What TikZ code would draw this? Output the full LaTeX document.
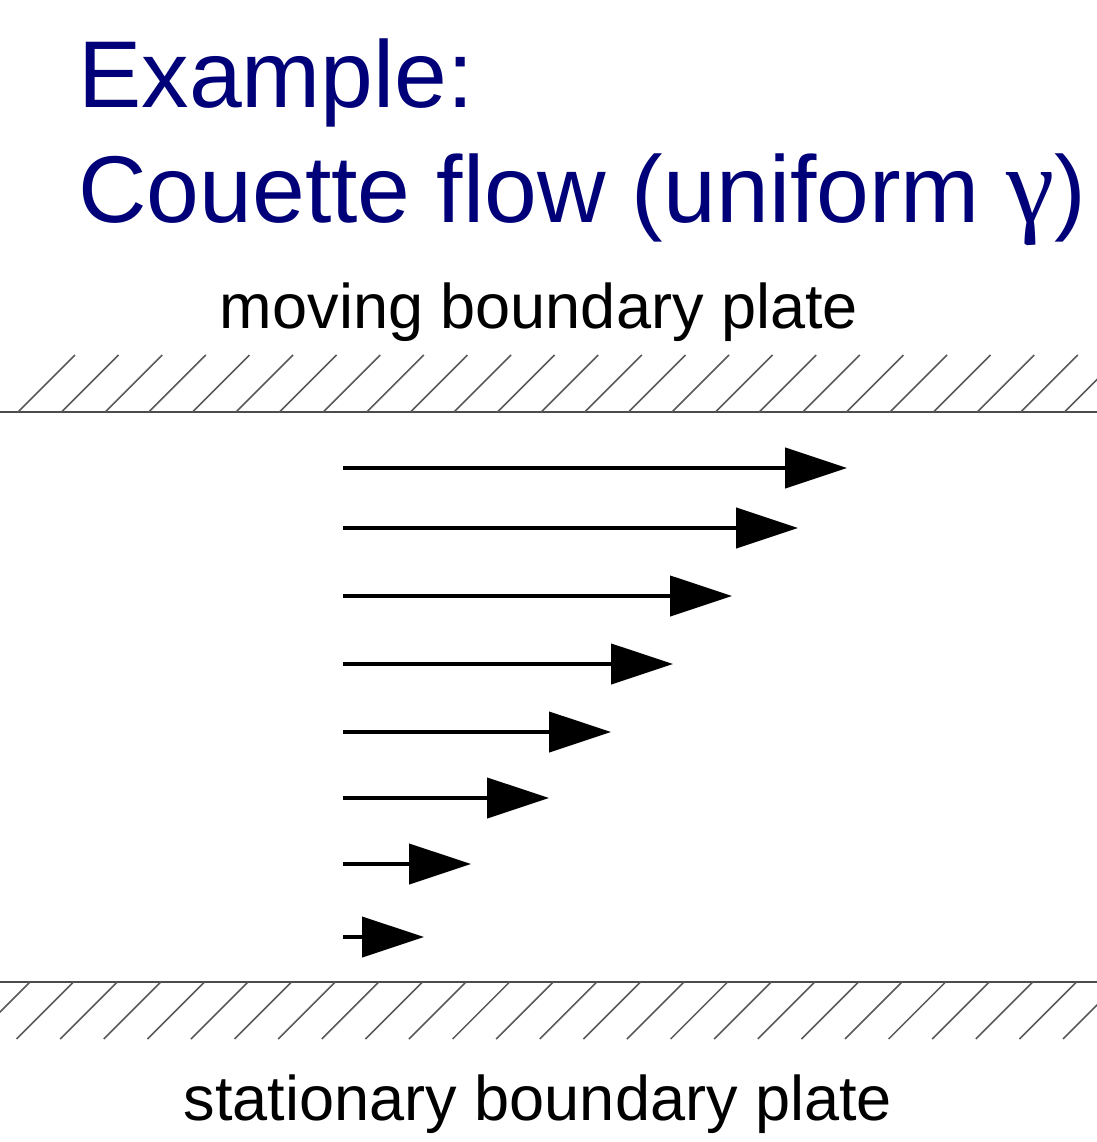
\documentclass[tikz,border=0pt]{standalone}
\usepackage{fontspec}
\setmainfont{Liberation Sans}
\newfontfamily\greekfont{Liberation Serif}
\usetikzlibrary{arrows.meta}
\definecolor{titleblue}{RGB}{0,0,120}

\begin{document}
\begin{tikzpicture}[x=0.02cm, y=-0.02cm,
        title/.style={anchor=base west, inner sep=0pt, text=titleblue, font=\fontsize{54}{65}\selectfont},
        platetext/.style={anchor=base, inner sep=0pt, font=\fontsize{35.9}{43}\selectfont},
        plate/.style={draw=black!70, line width=1.2pt},
        hatch/.style={draw=black!65, line width=0.9pt},
        flow/.style={-{Triangle[length=1.24cm, width=0.8cm]}, line width=2.4pt}
    ]
        \useasboundingbox (0,0) rectangle (1097,1142);

        % title
        \node[title] (head) at (78,108) {Example:};
        \node[title] (sub) at (78,222) {Couette flow (uniform {\greekfont\fontsize{62}{65}\selectfont γ})};

        % plates
        \node[platetext] (top) at (539,328) {moving boundary plate};
        \node[platetext] (bottom) at (538,1120) {stationary boundary plate};

        \draw[plate] (0,412) -- (1097,412);
        \foreach \x in {18,61.6,...,1100}
            \draw[hatch] (\x,412) -- ++(57,-57);

        \draw[plate] (0,982) -- (1097,982);
        \foreach \x in {30,73.6,...,1160}
            \draw[hatch] (\x,982) -- ++(-57,57);

        % velocity profile
        \foreach \i/\y/\tip in {1/468/847, 2/528/798, 3/596/732, 4/664/673,
                                5/732/611, 6/798/549, 7/864/471, 8/937/424} {
            \coordinate (s\i) at (343,\y);
            \coordinate (e\i) at (\tip,\y);
            \draw[flow] (s\i) -- (e\i);
        }
    \end{tikzpicture}
\end{document}
